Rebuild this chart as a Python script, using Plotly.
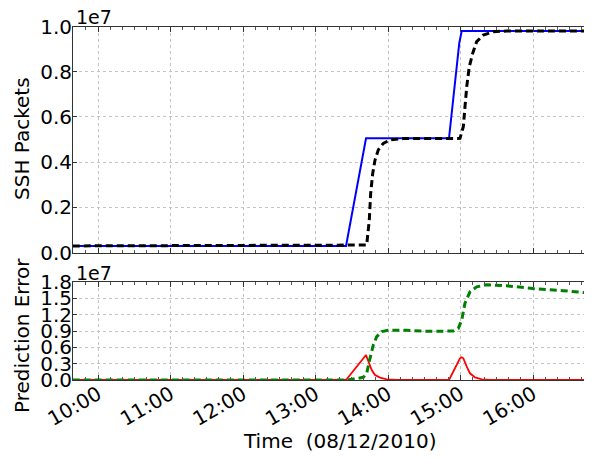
import plotly.graph_objects as go

DAY = "2010-08-12 "

# Observed SSH packets (blue)
obs_t = ["09:30:00", "13:25:16", "13:41:49", "14:50:29", "14:59:00", "15:01:00", "17:00:00"]
obs_v = [2.9e5, 2.9e5, 5.05e6, 5.05e6, 9.27e6, 9.8e6, 9.8e6]

# Predicted SSH packets (black dashed)
pred_t = ["09:30:00", "13:42:22", "13:44:31", "13:45:40", "13:47:20", "13:49:16", "13:51:58",
          "13:56:06", "14:01:41", "14:12:40", "14:59:35", "15:02:20", "15:03:43", "15:05:10",
          "15:07:16", "15:10:05", "15:13:23", "15:18:50", "15:27:07", "15:38:13", "17:00:00"]
pred_v = [2.9e5, 3.3e5, 1.44e6, 2.62e6, 3.50e6, 4.09e6, 4.54e6,
          4.83e6, 4.98e6, 5.04e6, 5.05e6, 5.57e6, 6.45e6, 7.34e6,
          8.22e6, 8.81e6, 9.33e6, 9.62e6, 9.77e6, 9.80e6, 9.80e6]

# Instant prediction error (red)
err_t = ["09:30:00", "13:25:16", "13:41:49", "13:43:41", "13:46:30", "13:49:16", "13:53:24",
         "13:58:55", "14:07:12", "14:50:29", "14:59:35", "15:01:00", "15:02:20", "15:05:10",
         "15:07:52", "15:12:00", "15:17:31", "15:24:25", "17:00:00"]
err_v = [0, 0, 4.59e6, 3.36e6, 1.84e6, 0.92e6, 0.43e6,
         0.13e6, 0, 0, 3.99e6, 4.17e6, 3.99e6, 2.45e6,
         1.23e6, 0.49e6, 0.13e6, 0, 0]

# Accumulated prediction error (green dashed)
cum_t = ["09:30:00", "13:27:00", "13:39:32", "13:42:22", "13:45:07", "13:47:50", "13:50:38",
         "13:54:47", "14:00:14", "14:15:29", "14:34:46", "14:54:04", "14:58:12", "15:01:00",
         "15:03:43", "15:07:52", "15:13:23", "15:21:39", "15:38:13", "16:00:14", "16:25:05",
         "16:48:36", "16:55:00"]
cum_v = [0, 0, 0.49e6, 1.23e6, 3.99e6, 6.43e6, 7.96e6,
         8.88e6, 9.12e6, 9.12e6, 8.94e6, 9.0e6, 9.49e6, 11.0e6,
         14.1e6, 16.2e6, 17.1e6, 17.5e6, 17.3e6, 16.8e6, 16.4e6,
         15.9e6, 15.8e6]

top_ticks = [0, 2e6, 4e6, 6e6, 8e6, 1e7]
top_labels = ["0.0", "0.2", "0.4", "0.6", "0.8", "1.0"]
bot_ticks = [0, 3e6, 6e6, 9e6, 1.2e7, 1.5e7, 1.8e7]
bot_labels = ["0.0", "0.3", "0.6", "0.9", "1.2", "1.5", "1.8"]

def ts(lst):
    return [DAY + t for t in lst]

# page body has an 8px margin, so the figure is sized to end exactly at the window edge
W, H = 584, 450
OFF = 8
FONT = "DejaVu Sans"

def px(xw):
    return (xw - OFF) / W

def py(yw):
    return 1 - (yw - OFF) / H

fig = go.Figure()
fig.add_trace(go.Scatter(x=ts(obs_t), y=obs_v, mode="lines",
                         line=dict(color="#0000ff", width=2), xaxis="x", yaxis="y"))
fig.add_trace(go.Scatter(x=ts(pred_t), y=pred_v, mode="lines",
                         line=dict(color="#000000", width=3, dash="7px,4px"), xaxis="x", yaxis="y"))
fig.add_trace(go.Scatter(x=ts(err_t), y=err_v, mode="lines",
                         line=dict(color="#ff0000", width=1.8), xaxis="x2", yaxis="y2"))
fig.add_trace(go.Scatter(x=ts(cum_t), y=cum_v, mode="lines",
                         line=dict(color="#008000", width=3, dash="7px,4px"), xaxis="x2", yaxis="y2"))

xr = [DAY + "09:39:18", DAY + "16:48:50"]
xcommon = dict(type="date", range=xr, domain=[px(73), 1.0], tickformat="%H:%M",
               tick0=DAY + "10:00", dtick=3600000, showgrid=True, gridcolor="#c4c4c4",
               griddash="dot", gridwidth=1, showline=True, linecolor="#333333", linewidth=1,
               mirror="ticks", ticks="inside", ticklen=5, tickcolor="#333333",
               minor=dict(ticks="inside", dtick=600000, tick0=DAY + "10:00", ticklen=3,
                          tickcolor="#555555", showgrid=False),
               zeroline=False, automargin=False, fixedrange=True)
ycommon = dict(showgrid=True, gridcolor="#c4c4c4", griddash="dot", gridwidth=1,
               showline=True, linecolor="#333333", linewidth=1, mirror=False,
               ticks="inside", ticklen=4, tickcolor="#333333", zeroline=False,
               automargin=False, ticklabelstandoff=-4,
               tickfont=dict(family=FONT, size=20, color="black"))

fig.update_layout(
    width=W, height=H, template="none", showlegend=False,
    margin=dict(l=0, r=0, t=0, b=0),
    paper_bgcolor="white", plot_bgcolor="white",
    xaxis=dict(xcommon, anchor="y", showticklabels=False),
    yaxis=dict(ycommon, domain=[py(252.5), py(26.5)], range=[0, 1e7],
               tickvals=top_ticks, ticktext=top_labels, anchor="x"),
    xaxis2=dict(xcommon, anchor="y2", matches="x", showticklabels=True, tickangle=-30,
                ticklabelstandoff=-6,
                tickfont=dict(family=FONT, size=20, color="black")),
    yaxis2=dict(ycommon, domain=[py(380), py(282)], range=[0, 1.8e7],
                tickvals=bot_ticks, ticktext=bot_labels, anchor="x2"),
)

ann_font = dict(family=FONT, size=20, color="black")
fig.add_annotation(text="SSH Packets", x=px(22), y=py(139), xref="paper", yref="paper",
                   textangle=-90, showarrow=False, font=ann_font, xanchor="center", yanchor="middle")
fig.add_annotation(text="Prediction Error", x=px(22), y=py(336), xref="paper", yref="paper",
                   textangle=-90, showarrow=False, font=ann_font, xanchor="center", yanchor="middle")
fig.add_annotation(text="Time\u00a0\u00a0(08/12/2010)", x=px(340), y=py(441), xref="paper",
                   yref="paper", showarrow=False, font=ann_font, xanchor="center", yanchor="middle")
fig.add_annotation(text="1e7", x=px(74), y=py(17.5), xref="paper", yref="paper",
                   showarrow=False, font=dict(family=FONT, size=19, color="black"),
                   xanchor="left", yanchor="middle")
fig.add_annotation(text="1e7", x=px(74), y=py(272.5), xref="paper", yref="paper",
                   showarrow=False, font=dict(family=FONT, size=19, color="black"),
                   xanchor="left", yanchor="middle")

fig.write_html("out.html")
